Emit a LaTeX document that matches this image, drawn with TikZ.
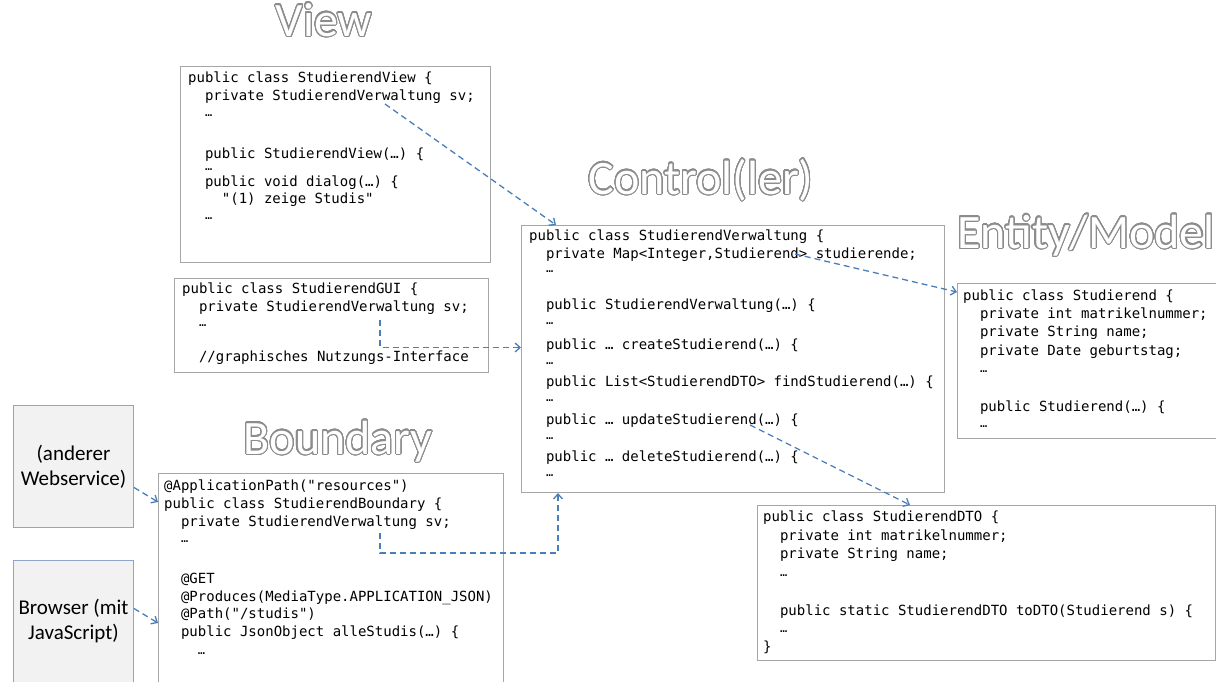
\documentclass[tikz,border=0pt]{standalone}
\usepackage{fontspec}
\setmainfont{Carlito}
\setmonofont{DejaVu Sans Mono}
\usepackage{xcolor}
\usepackage{contour}
\usepackage{tikz}
\usetikzlibrary{arrows.meta}
\contourlength{1.1pt}
\contournumber{40}
\definecolor{boxgray}{HTML}{A6A6A6}
\definecolor{depblue}{HTML}{4A7EBB}
\definecolor{sysfill}{HTML}{F2F2F2}
\definecolor{sysline}{HTML}{8EA4C8}
\definecolor{titlegray}{HTML}{8C8C8C}
\newcommand\idt{\phantom{xx}}
\newcommand\gap{{\fontsize{12}{12}\selectfont …}}
\newcommand\layertitle[1]{\contour{titlegray}{\textcolor{white}{#1}}}
\tikzset{
    codebox/.style={
        draw=boxgray,
        line width=1pt,
        fill=white,
        anchor=north west,
        inner sep=0pt
    },
    code/.style={
        anchor=north west,
        inner sep=0pt,
        align=left,
        font=\ttfamily\fontsize{14}{18}\selectfont,
        execute at begin node=\strut
    },
    sysbox/.style={
        draw=sysline,
        line width=1pt,
        fill=sysfill,
        anchor=north west,
        align=center,
        font=\fontsize{21}{25}\selectfont,
        minimum width=120pt,
        minimum height=122pt
    },
    layer/.style={anchor=base, inner sep=0pt, font=\fontsize{48}{48}\selectfont},
    dep/.style={
        draw=depblue,
        line width=1.3pt,
        dash pattern=on 6pt off 4pt,
        -{Straight Barb[length=5pt,width=9pt]}
    }
}
\begin{document}
\begin{tikzpicture}[x=1pt, y=-1pt]
\useasboundingbox (0,0) rectangle (1216,681);
\clip (0,0) rectangle (1216,681);

% layer titles
\node[layer] (tview) at (324,36) {\layertitle{View}};
\node[layer] (tctrl) at (701,194) {\layertitle{Control(ler)}};
\node[layer] (tent) at (1086,248) {\layertitle{Entity/Model}};
\node[layer] (tbnd) at (338,454) {\layertitle{Boundary}};

% boxes
\node[codebox, minimum width=310pt, minimum height=196pt] (view) at (180,66) {};
\node[codebox, minimum width=314pt, minimum height=94pt] (gui) at (174,278) {};
\node[codebox, minimum width=345pt, minimum height=240pt] (bnd) at (158,473) {};
\node[codebox, minimum width=423pt, minimum height=267pt] (ctrl) at (521,225) {};
\node[codebox, minimum width=280pt, minimum height=155pt] (ent) at (957,283) {};
\node[codebox, minimum width=458pt, minimum height=155pt] (dto) at (757,505) {};

% code
\node[code] (viewcode) at (188,71.4) {public class StudierendView \{\\
\idt private StudierendVerwaltung sv;\\[-2pt]
\idt\gap\\[24pt]
\idt public StudierendView(…) \{\\[-6pt]
\idt\gap\\[-2pt]
\idt public void dialog(…) \{\\[-1pt]
\idt\idt "(1) zeige Studis"\\[-2pt]
\idt\gap};

\node[code] (guicode) at (182,282.4) {public class StudierendGUI \{\\
\idt private StudierendVerwaltung sv;\\[-3pt]
\idt\gap\\[17pt]
\idt //graphisches Nutzungs-Interface};

\node[code] (ctrlcode) at (529,229.4) {public class StudierendVerwaltung \{\\
\idt private Map<Integer,Studierend> studierende;\\[-4pt]
\idt\gap\\[19pt]
\idt public StudierendVerwaltung(…) \{\\[-3pt]
\idt\gap\\[7pt]
\idt public … createStudierend(…) \{\\[-3pt]
\idt\gap\\[4pt]
\idt public List<StudierendDTO> findStudierend(…) \{\\[-3pt]
\idt\gap\\[5pt]
\idt public … updateStudierend(…) \{\\[-3pt]
\idt\gap\\[4pt]
\idt public … deleteStudierend(…) \{\\[-3pt]
\idt\gap};

\node[code] (entcode) at (963,289.4) {public class Studierend \{\\
\idt private int matrikelnummer;\\
\idt private String name;\\[1pt]
\idt private Date geburtstag;\\[-1pt]
\idt\gap\\[21pt]
\idt public Studierend(…) \{\\[-2pt]
\idt\gap};

\node[code] (dtocode) at (763,510.4) {public class StudierendDTO \{\\[1pt]
\idt private int matrikelnummer;\\
\idt private String name;\\
\idt\gap\\[21pt]
\idt public static StudierendDTO toDTO(Studierend s) \{\\[-1pt]
\idt\gap\\[1pt]
\}};

\node[code] (bndcode) at (164,479.4) {@ApplicationPath("resources")\\
public class StudierendBoundary \{\\
\idt private StudierendVerwaltung sv;\\[-2pt]
\idt\gap\\[23pt]
\idt @GET\\
\idt @Produces(MediaType.APPLICATION\_JSON)\\[-1pt]
\idt @Path("/studis")\\
\idt public JsonObject alleStudis(…) \{\\
\idt\idt\gap};

% callers
\node[sysbox] (ws) at (13,405) {(anderer\\Webservice)};
\node[sysbox] (br) at (13,560) {Browser (mit\\JavaScript)};

% dependencies
\coordinate (viewsv) at (385,104);
\coordinate (guisv) at (380,320);
\coordinate (bndsv) at (380,533);
\coordinate (bndbend) at (380,553);
\coordinate (ctrlmap) at (795,254);
\coordinate (ctrldto) at (750,425);

\draw[dep] (viewsv) -- ([xshift=35pt]ctrl.north west);
\draw[dep] (guisv) |- ([yshift=11.5pt]ctrl.west);
\draw[dep] (bndsv) -- (bndbend) -| ([xshift=37pt]ctrl.south west);
\draw[dep] (ctrlmap) -- ([yshift=-9pt]ent.north west);
\draw[dep] (ctrldto) -- ([xshift=153pt]dto.north west);
\draw[dep] ([yshift=-21pt]ws.east) -- ([yshift=-29pt]bnd.north west);
\draw[dep] ([yshift=13pt]br.east) -- ([yshift=-150pt]bnd.north west);
\end{tikzpicture}
\end{document}
